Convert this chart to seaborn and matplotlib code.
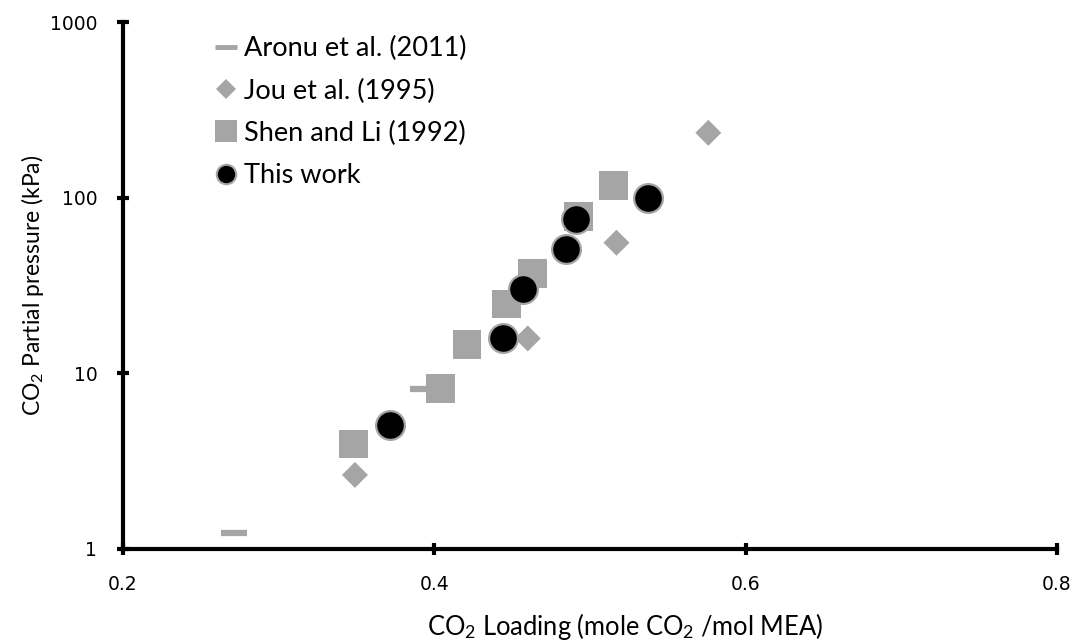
import matplotlib
matplotlib.use("Agg")
import matplotlib.pyplot as plt
import seaborn as sns
import pandas as pd
from matplotlib.lines import Line2D
from matplotlib.ticker import NullLocator

# ---- data ----
aronu_x = [0.271, 0.393]
aronu_y = [1.24, 8.15]
jou_x = [0.349, 0.460, 0.517, 0.576]
jou_y = [2.64, 15.8, 55.4, 234]
shen_x = [0.348, 0.404, 0.421, 0.4465, 0.463, 0.4925, 0.515]
shen_y = [3.96, 8.23, 14.6, 24.8, 37.1, 78, 117]
this_x = [0.3715, 0.444, 0.4568, 0.4846, 0.491, 0.537]
this_y = [5.07, 15.8, 30.2, 50.8, 75.7, 99.4]

series_names = ["Aronu et al. (2011)", "Jou et al. (1995)", "Shen and Li (1992)", "This work"]
xticks = [0.2, 0.4, 0.6, 0.8]
xtick_labels = ["0.2", "0.4", "0.6", "0.8"]
yticks = [1, 10, 100, 1000]
ytick_labels = ["1", "10", "100", "1000"]

sns.set_theme(style="white")
plt.rcParams["font.family"] = ["Lato", "DejaVu Sans"]
plt.rcParams["mathtext.fontset"] = "custom"
plt.rcParams["mathtext.rm"] = "Lato"
plt.rcParams["mathtext.it"] = "Lato:italic"

GRAY = "#A5A5A5"

fig = plt.figure(figsize=(10.75, 6.42), dpi=100)
ax = fig.add_axes([0.1144, 0.1449, 0.8689, 0.8208])

df_a = pd.DataFrame({"x": aronu_x, "y": aronu_y})
df_j = pd.DataFrame({"x": jou_x, "y": jou_y})
df_s = pd.DataFrame({"x": shen_x, "y": shen_y})
df_t = pd.DataFrame({"x": this_x, "y": this_y})

sns.scatterplot(data=df_a, x="x", y="y", ax=ax, marker="_", s=360,
                color=GRAY, linewidth=4.5, zorder=2, legend=False)
sns.scatterplot(data=df_j, x="x", y="y", ax=ax, marker="D", s=175,
                color=GRAY, edgecolor="none", linewidth=0, zorder=3, legend=False)
sns.scatterplot(data=df_s, x="x", y="y", ax=ax, marker="s", s=430,
                color=GRAY, edgecolor="none", linewidth=0, zorder=4, legend=False)
sns.scatterplot(data=df_t, x="x", y="y", ax=ax, marker="o", s=430,
                color="black", edgecolor=GRAY, linewidth=1.6, zorder=5, legend=False)

ax.set_yscale("log")
ax.set_xlim(0.2, 0.8)
ax.set_ylim(1, 1000)
tick_font = {"family": "DejaVu Sans", "size": 13.5, "color": "black"}
ax.set_xticks(xticks, xtick_labels, fontdict=tick_font)
ax.set_yticks(yticks, ytick_labels, fontdict=tick_font)
ax.yaxis.set_minor_locator(NullLocator())
ax.xaxis.set_minor_locator(NullLocator())

for s in ["top", "right"]:
    ax.spines[s].set_visible(False)
for s in ["left", "bottom"]:
    ax.spines[s].set_linewidth(3)
    ax.spines[s].set_color("black")

ax.tick_params(axis="both", which="major", direction="inout", length=8, width=3,
               color="black", left=True, bottom=True)
ax.tick_params(axis="x", pad=15)
ax.tick_params(axis="y", pad=14.5)

ax.set_xlabel("CO$_2$ Loading (mole CO$_2$ /mol MEA)", fontsize=18.4, color="black")
ax.xaxis.set_label_coords(0.537, -0.118, transform=ax.transAxes)
ax.xaxis.label.set_verticalalignment("top")
ax.set_ylabel("CO$_2$ Partial pressure (kPa)", fontsize=16.5, labelpad=3, color="black")

handles = [
    Line2D([], [], linestyle="none", marker="_", markersize=16, markeredgewidth=3.5, color=GRAY),
    Line2D([], [], linestyle="none", marker="D", markersize=10, color=GRAY, markeredgewidth=0),
    Line2D([], [], linestyle="none", marker="s", markersize=16, color=GRAY, markeredgewidth=0),
    Line2D([], [], linestyle="none", marker="o", markersize=14, markerfacecolor="black",
           markeredgecolor=GRAY, markeredgewidth=1.5),
]
leg = ax.legend(handles, series_names, loc="upper left", bbox_to_anchor=(0.0875, 0.994),
                frameon=False, fontsize=19.5, handlelength=0.75, handletextpad=0.3,
                labelspacing=0.64, borderaxespad=0)
for t in leg.get_texts():
    t.set_color("black")

fig.savefig("out.png", dpi=100)
